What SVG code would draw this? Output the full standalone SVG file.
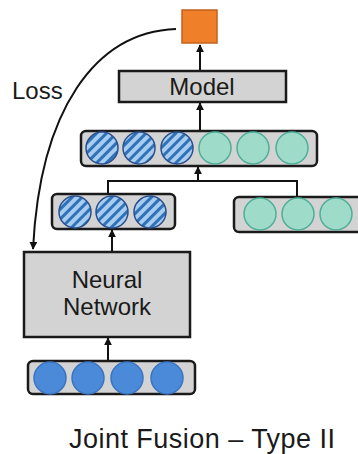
<svg xmlns="http://www.w3.org/2000/svg" width="358" height="454" viewBox="0 0 358 454">
<defs>
<style>
.box{fill:#d3d3d3;stroke:#1a1a1a;stroke-width:2.5}
.bar{fill:#d3d3d3;stroke:#1a1a1a;stroke-width:2.5}
.hat{fill:url(#hatch);stroke:#2b4f8c;stroke-width:1.5}
.teal{fill:#9edbc9;stroke:#4fae98;stroke-width:1.5}
.blue{fill:#4a8ad8;stroke:#3a74c0;stroke-width:1.5}
.lbl{font-family:"Liberation Sans",Arial,sans-serif;fill:#1a1a1a}
.ln{fill:none;stroke:#111;stroke-width:2}
</style>
<pattern id="hatch" patternUnits="userSpaceOnUse" width="7" height="7" patternTransform="rotate(45)">
<rect width="7" height="7" fill="#a9cdf1"/>
<rect width="3" height="7" fill="#2f72b8"/>
</pattern>
<marker id="ah" viewBox="0 0 10 10" refX="9" refY="5" markerWidth="4" markerHeight="4" orient="auto">
<path d="M0,0 L10,5 L0,10 z" fill="#111"/>
</marker>
</defs>
<g id="connectors">
<line class="ln" x1="200" y1="70" x2="200" y2="45" marker-end="url(#ah)"/>
<line class="ln" x1="200" y1="130" x2="200" y2="103" marker-end="url(#ah)"/>
<polyline class="ln" points="108,193 108,181 297,181 297,197"/>
<line class="ln" x1="198" y1="181" x2="198" y2="167" marker-end="url(#ah)"/>
<line class="ln" x1="112" y1="251" x2="112" y2="230" marker-end="url(#ah)"/>
<line class="ln" x1="108" y1="360" x2="108" y2="338" marker-end="url(#ah)"/>
<path class="ln" d="M176,29 C95,32 40,110 33,249" marker-end="url(#ah)"/>
</g>
<g id="output">
<rect x="182" y="10" width="35" height="33" fill="#f07f2a" stroke="#c4621d" stroke-width="1.5"/>
</g>
<g id="model">
<rect class="box" x="119" y="71" width="167" height="31"/>
<text class="lbl" x="202" y="95" font-size="24" text-anchor="middle">Model</text>
</g>
<g id="concat">
<rect class="bar" x="81" y="131" width="236" height="35" rx="5"/>
<circle class="hat" cx="102" cy="148" r="16"/>
<circle class="hat" cx="139" cy="148" r="16"/>
<circle class="hat" cx="177" cy="148" r="16"/>
<circle class="teal" cx="215" cy="148" r="16"/>
<circle class="teal" cx="253" cy="148" r="16"/>
<circle class="teal" cx="292" cy="148" r="16"/>
</g>
<g id="features-left">
<rect class="bar" x="52" y="194" width="123" height="35" rx="5"/>
<circle class="hat" cx="75" cy="212" r="16"/>
<circle class="hat" cx="112" cy="212" r="16"/>
<circle class="hat" cx="150" cy="212" r="16"/>
</g>
<g id="features-right">
<rect class="bar" x="234" y="197" width="140" height="35" rx="5"/>
<circle class="teal" cx="260" cy="214" r="16"/>
<circle class="teal" cx="298" cy="214" r="16"/>
<circle class="teal" cx="336" cy="214" r="16"/>
</g>
<g id="neural-network">
<rect class="box" x="24" y="252" width="166" height="85"/>
<text class="lbl" x="107" y="288" font-size="24" text-anchor="middle">Neural</text>
<text class="lbl" x="107" y="315" font-size="24" text-anchor="middle">Network</text>
</g>
<g id="input">
<rect class="bar" x="28" y="361" width="167" height="33" rx="5"/>
<circle class="blue" cx="50" cy="378" r="16"/>
<circle class="blue" cx="88" cy="378" r="16"/>
<circle class="blue" cx="127" cy="378" r="16"/>
<circle class="blue" cx="167" cy="378" r="16"/>
</g>
<text class="lbl" x="12" y="99" font-size="24">Loss</text>
<text class="lbl" x="69" y="448" font-size="27" textLength="266" lengthAdjust="spacing">Joint Fusion – Type II</text>
</svg>
